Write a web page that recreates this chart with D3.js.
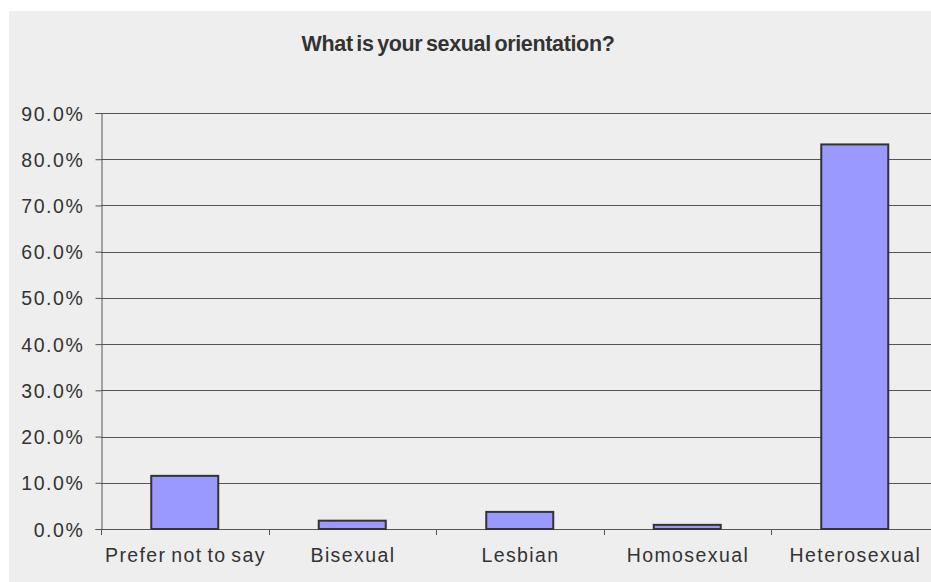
<!DOCTYPE html>
<html>
<head>
<meta charset="utf-8">
<script src="https://cdn.jsdelivr.net/npm/d3@7/dist/d3.min.js"></script>
<style>
  html, body { margin: 0; padding: 0; background: #ffffff; }
  svg { display: block; }
  text { font-family: "Liberation Sans", Arial, sans-serif; fill: #333333; }
</style>
</head>
<body>
<svg id="chart" width="931" height="582"></svg>
<script>
// Survey answers: share of respondents per orientation
const categories = ["Prefer not to say", "Bisexual", "Lesbian", "Homosexual", "Heterosexual"];
const shares = [11.5, 1.8, 3.7, 0.9, 83.2];
const yTicks = [0, 10, 20, 30, 40, 50, 60, 70, 80, 90];
const title = "What is your sexual orientation?";

const svg = d3.select("#chart");

// Panel background
svg.append("rect")
  .attr("x", 9).attr("y", 11)
  .attr("width", 931 - 9).attr("height", 582 - 11)
  .attr("fill", "#eeeeee");

const plot = { left: 101, right: 938.5, top: 113, bottom: 529 };

const x = d3.scaleBand()
  .domain(categories)
  .range([plot.left, plot.right])
  .paddingInner(0.6)
  .paddingOuter(0.3);

const xBand = d3.scaleBand()
  .domain(categories)
  .range([plot.left, plot.right]);

const y = d3.scaleLinear()
  .domain([0, 90])
  .range([plot.bottom, plot.top]);

// Horizontal gridlines
svg.append("g")
  .selectAll("line")
  .data(yTicks)
  .join("line")
  .attr("x1", plot.left).attr("x2", plot.right)
  .attr("y1", d => Math.round(y(d)) + 0.5)
  .attr("y2", d => Math.round(y(d)) + 0.5)
  .attr("stroke", "#555555")
  .attr("stroke-width", 1);

// Y axis
const yAxis = svg.append("g")
  .attr("transform", `translate(${plot.left + 0.5},0)`)
  .call(d3.axisLeft(y).tickValues(yTicks).tickSize(6).tickPadding(11)
    .tickFormat(d => d.toFixed(1) + "%"));
yAxis.select(".domain").attr("stroke", "#555555");
yAxis.selectAll(".tick line").attr("stroke", "#555555");
yAxis.selectAll(".tick text")
  .attr("font-size", "19.5px")
  .attr("letter-spacing", "1.6px")
  .attr("dy", "0.36em")
  .attr("font-family", "Liberation Sans, Arial, sans-serif")
  .attr("fill", "#333333");

// Category ticks on band boundaries
svg.append("g")
  .selectAll("line")
  .data(categories)
  .join("line")
  .attr("x1", d => Math.round(xBand(d)) + 0.5)
  .attr("x2", d => Math.round(xBand(d)) + 0.5)
  .attr("y1", plot.bottom)
  .attr("y2", plot.bottom + 6)
  .attr("stroke", "#555555");

// Bars
svg.append("g")
  .selectAll("rect")
  .data(categories.map((c, i) => ({ c, v: shares[i] })))
  .join("rect")
  .attr("x", d => x(d.c))
  .attr("y", d => y(d.v))
  .attr("width", x.bandwidth())
  .attr("height", d => y(0) - y(d.v))
  .attr("fill", "#9999ff")
  .attr("stroke", "#333333")
  .attr("stroke-width", 2);

// Category labels
svg.append("g")
  .selectAll("text")
  .data(categories)
  .join("text")
  .attr("x", d => xBand(d) + xBand.bandwidth() / 2 + 0.7)
  .attr("y", 562)
  .attr("text-anchor", "middle")
  .attr("font-size", "19.5px")
  .attr("letter-spacing", "1.4px")
  .attr("word-spacing", "-2px")
  .text(d => d);

// Title
svg.append("text")
  .attr("x", 458)
  .attr("y", 51)
  .attr("text-anchor", "middle")
  .attr("font-size", "21.5px")
  .attr("font-weight", "bold")
  .attr("letter-spacing", "-0.35px")
  .attr("word-spacing", "-2px")
  .text(title);
</script>
</body>
</html>
